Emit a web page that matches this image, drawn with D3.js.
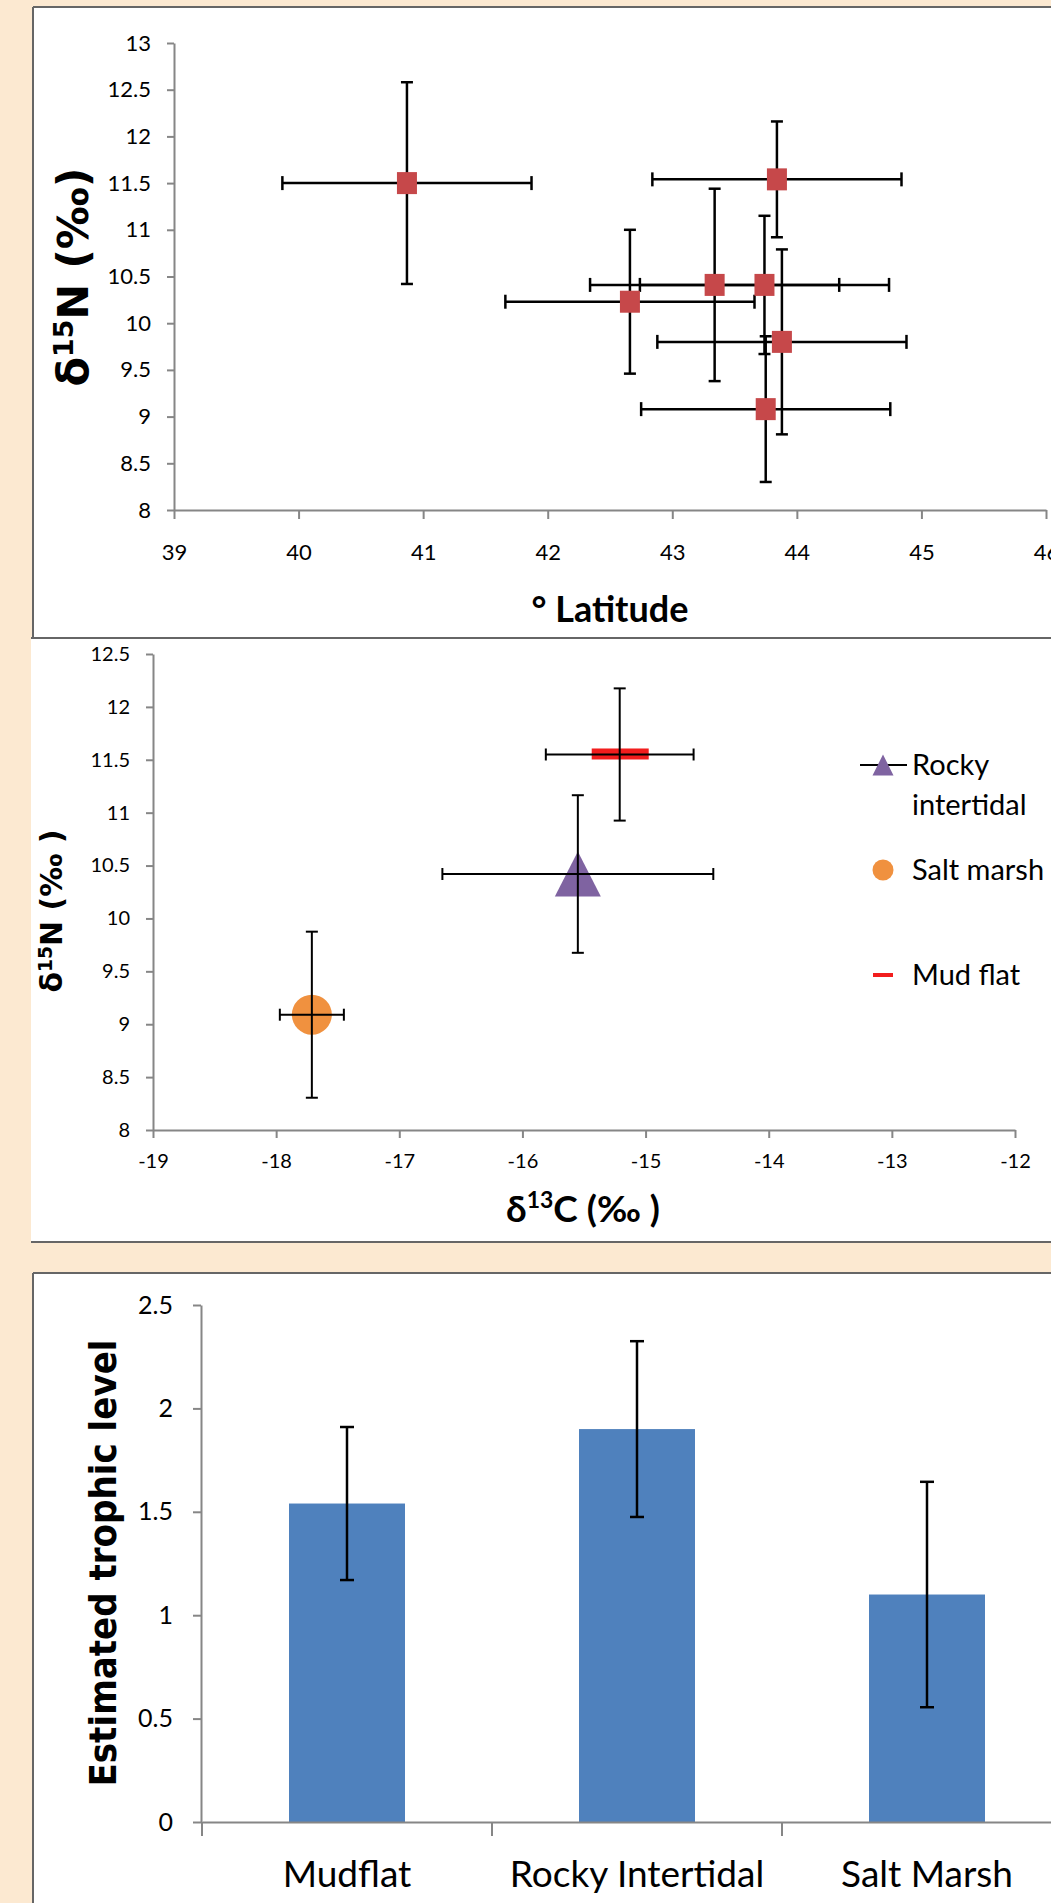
<!DOCTYPE html>
<html>
<head>
<meta charset="utf-8">
<script src="https://cdn.jsdelivr.net/npm/d3@7"></script>
<style>
  body { margin: 0; background: #fce9d1; }
  svg { display: block; }
  .tick text { font-family: Lato, "Open Sans", sans-serif; fill: #000; }
</style>
</head>
<body>
<div id="chart"></div>
<script>

// Panel 1: d15N against latitude
var latitude   = [40.87, 43.84, 42.66, 43.34, 43.74, 43.88, 43.75];
var latN15     = [11.50, 11.54, 10.23, 10.41, 10.41, 9.80, 9.08];
var latErr     = [1.0, 1.0, 1.0, 1.0, 1.0, 1.0, 1.0];
var latN15Err  = [1.08, 0.62, 0.77, 1.03, 0.74, 0.99, 0.78];
var latTicks   = [39, 40, 41, 42, 43, 44, 45, 46];
var n15Ticks1  = [8, 8.5, 9, 9.5, 10, 10.5, 11, 11.5, 12, 12.5, 13];

// Panel 2: d15N against d13C per habitat
var habitats      = ['Rocky intertidal', 'Salt marsh', 'Mud flat'];
var habitatC13    = [-15.55, -17.71, -15.21];
var habitatN15    = [10.42, 9.09, 11.55];
var habitatC13Err = [1.10, 0.26, 0.60];
var habitatN15Err = [0.745, 0.785, 0.625];
var c13Ticks      = [-19, -18, -17, -16, -15, -14, -13, -12];
var n15Ticks2     = [8, 8.5, 9, 9.5, 10, 10.5, 11, 11.5, 12, 12.5];

// Panel 3: estimated trophic level
var sites       = ['Mudflat', 'Rocky Intertidal', 'Salt Marsh'];
var trophic     = [1.54, 1.90, 1.10];
var trophicErr  = [0.37, 0.425, 0.545];
var trophicTicks = [0, 0.5, 1, 1.5, 2, 2.5];


var W = 1051, H = 1903;
var axisColor = '#868686', border = '#666';

var svg = d3.select('#chart').append('svg')
    .attr('width', W)
    .attr('height', H);

// background + panels
svg.append('rect').attr('width', W).attr('height', H).attr('fill', '#fce9d1');
svg.append('rect').attr('x', 33).attr('y', 7).attr('width', W).attr('height', 631).attr('fill', '#fff');
svg.append('rect').attr('x', 31).attr('y', 638).attr('width', W).attr('height', 604).attr('fill', '#fff');
svg.append('rect').attr('x', 33).attr('y', 1273).attr('width', W).attr('height', H - 1273).attr('fill', '#fff');

var borders = [
  [33, 7, W, 7], [33, 7, 33, 638], [31, 638, W, 638],
  [31, 1242, W, 1242],
  [33, 1273, W, 1273], [33, 1273, 33, H]
];
svg.selectAll('line.border').data(borders).enter().append('line')
    .attr('class', 'border')
    .attr('x1', function(d){ return d[0]; }).attr('y1', function(d){ return d[1]; })
    .attr('x2', function(d){ return d[2]; }).attr('y2', function(d){ return d[3]; })
    .attr('stroke', border).attr('stroke-width', 2);

var styleAxis = function( g, size ){
  g.select('.domain').attr('stroke', axisColor).attr('stroke-width', 2);
  g.selectAll('.tick line').attr('stroke', axisColor).attr('stroke-width', 2);
  g.selectAll('.tick text').style('font-size', size + 'px');
};

// draws x/y error bars for a set of points
var errorBars = function( g, xs, ys, xErr, yErr, x, y, capX, capY, sw ){
  var eb = g.append('g').attr('stroke', '#000').attr('stroke-width', sw);
  xs.forEach(function(d, i){
    var cx = x(xs[i]), cy = y(ys[i]);
    var xl = x(xs[i] - xErr[i]), xr = x(xs[i] + xErr[i]);
    var yt = y(ys[i] + yErr[i]), yb = y(ys[i] - yErr[i]);
    eb.append('line').attr('x1', xl).attr('x2', xr).attr('y1', cy).attr('y2', cy);
    eb.append('line').attr('x1', xl).attr('x2', xl).attr('y1', cy - capX).attr('y2', cy + capX);
    eb.append('line').attr('x1', xr).attr('x2', xr).attr('y1', cy - capX).attr('y2', cy + capX);
    eb.append('line').attr('x1', cx).attr('x2', cx).attr('y1', yt).attr('y2', yb);
    eb.append('line').attr('x1', cx - capY).attr('x2', cx + capY).attr('y1', yt).attr('y2', yt);
    eb.append('line').attr('x1', cx - capY).attr('x2', cx + capY).attr('y1', yb).attr('y2', yb);
  });
};

var n15Title = function( g, x, y, size, label, len ){
  var t = g.append('text')
      .attr('transform', 'translate(' + x + ',' + y + ') rotate(-90)')
      .attr('text-anchor', 'middle')
      .style('font-family', '"DejaVu Sans", Verdana, sans-serif')
      .style('font-weight', 'bold')
      .style('font-size', size + 'px');
  if (len) t.attr('textLength', len).attr('lengthAdjust', 'spacingAndGlyphs');
  t.append('tspan').text('δ');
  t.append('tspan').attr('baseline-shift', 'super').style('font-size', '62%').text('15');
  t.append('tspan').text(label);
  return t;
};


// ---------- Panel 1 ----------
var p1 = svg.append('g');
var x1 = d3.scaleLinear().domain([39, 46]).range([174, 1046]);
var y1 = d3.scaleLinear().domain([8, 13]).range([510, 43]);

p1.append('g').attr('transform', 'translate(174,0)')
    .call(d3.axisLeft(y1).tickValues(n15Ticks1).tickFormat(function(d){ return d; })
      .tickSize(7).tickPadding(16).tickSizeOuter(0))
    .call(styleAxis, 22);

p1.append('g').attr('transform', 'translate(0,510)')
    .call(d3.axisBottom(x1).tickValues(latTicks).tickFormat(function(d){ return d; })
      .tickSize(9).tickPadding(25).tickSizeOuter(0))
    .call(styleAxis, 22);

errorBars(p1, latitude, latN15, latErr, latN15Err, x1, y1, 7, 6, 2.5);

p1.selectAll('rect.pt').data(latitude).enter().append('rect')
    .attr('class', 'pt')
    .attr('x', function(d){ return x1(d) - 10; })
    .attr('y', function(d, i){ return y1(latN15[i]) - 11; })
    .attr('width', 20).attr('height', 22)
    .attr('fill', '#c6484a');

n15Title(p1, 88, 277, 43, 'N (‰)');

p1.append('text').attr('x', 610).attr('y', 622)
    .attr('text-anchor', 'middle')
    .style('font-family', 'Lato, sans-serif').style('font-weight', 'bold').style('font-size', '36px')
    .text('° Latitude');


// ---------- Panel 2 ----------
var p2 = svg.append('g');
var x2 = d3.scaleLinear().domain([-19, -12]).range([153, 1015]);
var y2 = d3.scaleLinear().domain([8, 12.5]).range([1130, 654]);

p2.append('g').attr('transform', 'translate(153,0)')
    .call(d3.axisLeft(y2).tickValues(n15Ticks2).tickFormat(function(d){ return d; })
      .tickSize(7).tickPadding(16).tickSizeOuter(0))
    .call(styleAxis, 20);

p2.append('g').attr('transform', 'translate(0,1130)')
    .call(d3.axisBottom(x2).tickValues(c13Ticks).tickFormat(function(d){ return String(d); })
      .tickSize(8).tickPadding(16).tickSizeOuter(0))
    .call(styleAxis, 20);

// markers
var triangle = function( w, h ){
  return 'M0,' + (-h / 2) + 'L' + (w / 2) + ',' + (h / 2) + 'L' + (-w / 2) + ',' + (h / 2) + 'Z';
};
var habColors = ['#7f63a1', '#f0913f', '#f21d1d'];

p2.append('path')
    .attr('d', triangle(46, 45))
    .attr('transform', 'translate(' + x2(habitatC13[0]) + ',' + y2(habitatN15[0]) + ')')
    .attr('fill', habColors[0]);
p2.append('circle')
    .attr('cx', x2(habitatC13[1])).attr('cy', y2(habitatN15[1])).attr('r', 20)
    .attr('fill', habColors[1]);
p2.append('rect')
    .attr('x', x2(habitatC13[2]) - 28).attr('y', y2(habitatN15[2]) - 6)
    .attr('width', 57).attr('height', 11)
    .attr('fill', habColors[2]);

errorBars(p2, habitatC13, habitatN15, habitatC13Err, habitatN15Err, x2, y2, 6, 6, 2);

// legend
var lg = p2.append('g').style('font-family', 'Lato, sans-serif').style('font-size', '29px');
lg.append('line').attr('x1', 860).attr('x2', 907).attr('y1', 765).attr('y2', 765)
    .attr('stroke', '#000').attr('stroke-width', 2);
lg.append('path').attr('d', triangle(21, 21)).attr('transform', 'translate(883,765)').attr('fill', habColors[0]);
lg.append('text').attr('x', 912).attr('y', 775).text('Rocky');
lg.append('text').attr('x', 912).attr('y', 815).text('intertidal');
lg.append('circle').attr('cx', 883).attr('cy', 870).attr('r', 10.5).attr('fill', habColors[1]);
lg.append('text').attr('x', 912).attr('y', 880).text(habitats[1]);
lg.append('rect').attr('x', 873).attr('y', 973).attr('width', 20).attr('height', 4).attr('fill', habColors[2]);
lg.append('text').attr('x', 912).attr('y', 985).text(habitats[2]);

n15Title(p2, 62, 911, 30, 'N (‰ )');

var xt2 = p2.append('text').attr('x', 583).attr('y', 1222)
    .attr('text-anchor', 'middle')
    .style('font-family', 'Lato, sans-serif').style('font-weight', 'bold').style('font-size', '37px');
xt2.append('tspan').text('δ');
xt2.append('tspan').attr('baseline-shift', 'super').style('font-size', '62%').text('13');
xt2.append('tspan').text('C (‰ )');


// ---------- Panel 3 ----------
var p3 = svg.append('g');
var x3 = d3.scaleBand().domain(sites).range([202, 1072]).paddingInner(0.6).paddingOuter(0.3);
var y3 = d3.scaleLinear().domain([0, 2.5]).range([1822, 1305]);

p3.append('g').attr('transform', 'translate(201,0)')
    .call(d3.axisLeft(y3).tickValues(trophicTicks).tickFormat(function(d){ return d; })
      .tickSize(8).tickPadding(20).tickSizeOuter(0))
    .call(styleAxis, 25);

p3.selectAll('rect.bar').data(trophic).enter().append('rect')
    .attr('class', 'bar')
    .attr('x', function(d, i){ return x3(sites[i]); })
    .attr('y', function(d){ return y3(d); })
    .attr('width', x3.bandwidth())
    .attr('height', function(d){ return y3(0) - y3(d); })
    .attr('fill', '#4f81bd');

var xa3 = p3.append('g').attr('transform', 'translate(0,1822)')
    .call(d3.axisBottom(x3).tickSize(0).tickPadding(39).tickSizeOuter(0))
    .call(styleAxis, 37);

// category boundary ticks
var step = x3.step();
xa3.selectAll('line.bound').data(d3.range(sites.length + 1)).enter().append('line')
    .attr('class', 'bound')
    .attr('x1', function(d){ return x3.range()[0] + d * step; })
    .attr('x2', function(d){ return x3.range()[0] + d * step; })
    .attr('y1', 0).attr('y2', 14)
    .attr('stroke', axisColor).attr('stroke-width', 2);

var eb3 = p3.append('g').attr('stroke', '#000').attr('stroke-width', 2.5);
trophic.forEach(function(d, i){
  var cx = x3(sites[i]) + x3.bandwidth() / 2;
  var yt = y3(d + trophicErr[i]), yb = y3(d - trophicErr[i]);
  eb3.append('line').attr('x1', cx).attr('x2', cx).attr('y1', yt).attr('y2', yb);
  eb3.append('line').attr('x1', cx - 7).attr('x2', cx + 7).attr('y1', yt).attr('y2', yt);
  eb3.append('line').attr('x1', cx - 7).attr('x2', cx + 7).attr('y1', yb).attr('y2', yb);
});

p3.append('text')
    .attr('transform', 'translate(116,1563) rotate(-90)')
    .attr('text-anchor', 'middle')
    .attr('textLength', 447).attr('lengthAdjust', 'spacingAndGlyphs')
    .style('font-family', '"DejaVu Sans", Verdana, sans-serif')
    .style('font-weight', 'bold').style('font-size', '38px')
    .text('Estimated trophic level');

</script>
</body>
</html>
